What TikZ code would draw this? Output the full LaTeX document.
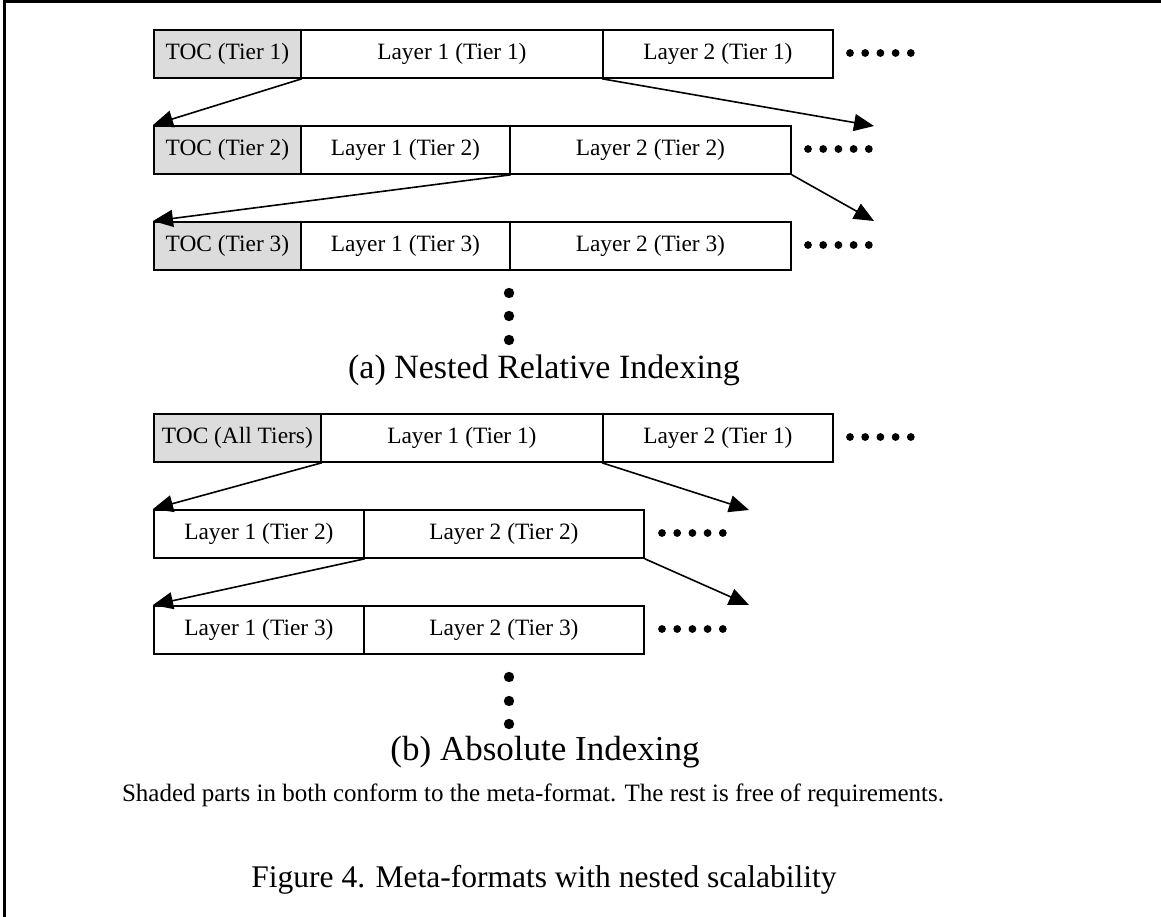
\documentclass[tikz,border=0pt]{standalone}
\usepackage{fontspec}
\setmainfont{Liberation Serif}
\usetikzlibrary{arrows.meta}

\tikzset{
  cell/.style={draw, line width=1.8pt, fill=white, minimum height=48pt,
    inner sep=0pt, anchor=north west, font=\fontsize{23.4}{27}\selectfont},
  toc/.style={cell, fill=tocgray},
  link/.style={line width=1.6pt, -{Triangle[length=20pt,width=17pt]}},
  caption/.style={inner sep=0pt, font=\fontsize{34}{38}\selectfont},
}
\definecolor{tocgray}{HTML}{DCDCDC}

\begin{document}
\begin{tikzpicture}[x=1pt, y=-1pt]
\useasboundingbox (0,0) rectangle (1161,917);
\fill[white] (0,0) rectangle (1161,917);

% frame (left and top edges)
\draw[line width=3pt] (4.5,917) -- (4.5,1.5) -- (1161,1.5);

% ---------- (a) nested relative indexing ----------
\node[toc,  minimum width=147pt] (a1t) at (153,29) {TOC (Tier 1)};
\node[cell, minimum width=302pt] (a1l) at (300,29) {Layer 1 (Tier 1)};
\node[cell, minimum width=230pt] (a1m) at (602,29) {Layer 2 (Tier 1)};

\node[toc,  minimum width=147pt] (a2t) at (153,125) {TOC (Tier 2)};
\node[cell, minimum width=209pt] (a2l) at (300,125) {Layer 1 (Tier 2)};
\node[cell, minimum width=281pt] (a2m) at (509,125) {Layer 2 (Tier 2)};

\node[toc,  minimum width=147pt] (a3t) at (153,221) {TOC (Tier 3)};
\node[cell, minimum width=209pt] (a3l) at (300,221) {Layer 1 (Tier 3)};
\node[cell, minimum width=281pt] (a3m) at (509,221) {Layer 2 (Tier 3)};

\coordinate (ae1) at (874,126);
\coordinate (ae2) at (874,221);
\draw[link] (a1t.south east) -- (a2t.north west);
\draw[link] (a1m.south west) -- (ae1);
\draw[link] (a2l.south east) -- (a3t.north west);
\draw[link] (a2m.south east) -- (ae2);

% horizontal continuation dots
\foreach \y/\x in {53/850, 149/808, 245/808}
  \foreach \i in {0,...,4}
    \fill (\x+\i*15.2, \y) circle (3.9pt);

% vertical continuation dots
\foreach \y in {293,316,340}
  \fill (509,\y) circle (5.2pt);

\node[caption] (capa) at (544,370) {(a) Nested Relative Indexing};

% ---------- (b) absolute indexing ----------
\node[toc,  minimum width=167pt] (b1t) at (153,413) {TOC (All Tiers)};
\node[cell, minimum width=282pt] (b1l) at (320,413) {Layer 1 (Tier 1)};
\node[cell, minimum width=230pt] (b1m) at (602,413) {Layer 2 (Tier 1)};

\node[cell, minimum width=210pt] (b2l) at (153,509) {Layer 1 (Tier 2)};
\node[cell, minimum width=280pt] (b2m) at (363,509) {Layer 2 (Tier 2)};

\node[cell, minimum width=210pt] (b3l) at (153,605) {Layer 1 (Tier 3)};
\node[cell, minimum width=280pt] (b3m) at (363,605) {Layer 2 (Tier 3)};

\coordinate (be1) at (749,510);
\coordinate (be2) at (749,605);
\draw[link] (b1t.south east) -- (b2l.north west);
\draw[link] (b1m.south west) -- (be1);
\draw[link] (b2l.south east) -- (b3l.north west);
\draw[link] (b2m.south east) -- (be2);

\foreach \y/\x in {437/850, 533/662, 629/662}
  \foreach \i in {0,...,4}
    \fill (\x+\i*15.2, \y) circle (3.9pt);

\foreach \y in {677,701,724}
  \fill (509,\y) circle (5.2pt);

\node[caption, font=\fontsize{35}{39}\selectfont] (capb) at (545,752) {(b) Absolute Indexing};

% ---------- notes ----------
\node[inner sep=0pt, font=\fontsize{25}{29}\selectfont] (note) at (533,795)
  {Shaded parts in both conform to the meta-format. The rest is free of requirements.};
\node[caption, font=\fontsize{31.5}{36}\selectfont] (fig) at (544,880)
  {Figure 4. Meta-formats with nested scalability};
\end{tikzpicture}
\end{document}
